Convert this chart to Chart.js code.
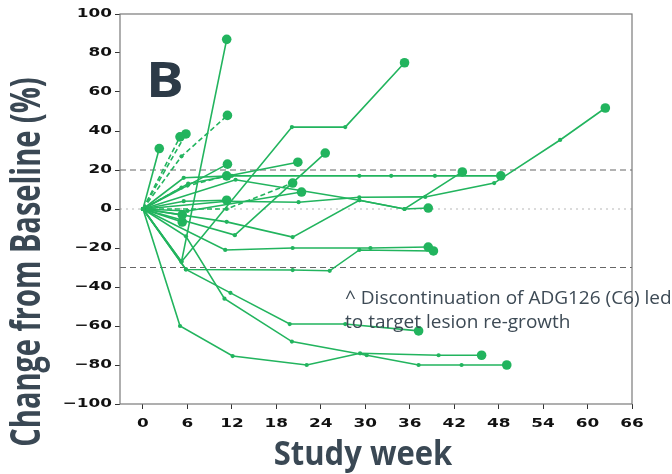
<!DOCTYPE html>
<html>
<head>
<meta charset="utf-8">
<script src="https://cdn.jsdelivr.net/npm/chart.js@4.4.0/dist/chart.umd.min.js"></script>
<style>
  html, body { margin: 0; padding: 0; background: #fff; }
</style>
</head>
<body>
<canvas id="spider" width="672" height="474"></canvas>
<script>
// per-patient study weeks and % change in target lesions
const wk01 = [0, 2.2];                                 const pc01 = [0, 31];
const wk02 = [0, 5];                                   const pc02 = [0, 37];
const wk03 = [0, 5.8];                                 const pc03 = [0, 38.5];
const wk04 = [0, 5.2, 11.4];                           const pc04 = [0, 27, 48];
const wk05 = [0, 5.2, 11.3];                           const pc05 = [0, -27, 87];
const wk06 = [0, 5.8, 11.8, 19.8, 27.3, 37.2];         const pc06 = [0, -31, -43, -59, -59, -62.5];
const wk07 = [0, 5.8, 11, 20.1, 30.2, 37.2, 43, 49.1]; const pc07 = [0, -14, -46, -68, -75, -80, -80, -80];
const wk08 = [0, 5, 12.1, 22.1, 29.3, 39.9, 45.7];     const pc08 = [0, -60, -75.4, -80, -74, -75, -75];
const wk09 = [0, 5.8, 20.2, 25.2, 29.2, 39.2];         const pc09 = [0, -31, -31.3, -31.7, -21, -21.5];
const wk10 = [0, 11.1, 20.2, 30.7, 38.5];              const pc10 = [0, -21, -20, -20, -19.5];
const wk11 = [0, 11.3, 20.2, 29.2, 35.3, 43.1];        const pc11 = [0, -6.6, -14.4, 4.5, 0, 19];
const wk12 = [0, 12.5, 29.2, 35.3, 38.5];              const pc12 = [0, 15, 4.5, 0, 0.5];
const wk13 = [0, 12.4, 24.6];                          const pc13 = [0, -13.4, 28.7];
const wk14 = [0, 6.1, 20.9];                           const pc14 = [0, 13, 24];
const wk15 = [0, 11.3, 20.2];                          const pc15 = [0, 0, 13.3];
const wk16 = [0, 5.5, 12, 29.2, 33.5, 39.4, 48.3];     const pc16 = [0, 16, 17, 17, 17, 17, 17];
const wk17 = [0, 11.3, 21, 29.2, 38.1, 47.4, 56.3, 62.4]; const pc17 = [0, 4, 3.5, 6, 6.2, 13.3, 35.4, 51.8];
const wk18 = [0, 5.2, 20.1, 27.3, 35.3];               const pc18 = [0, -27, 42, 42, 75];
const wk19 = [0, 5.3];                                 const pc19 = [0, -3];
const wk20 = [0, 5.3];                                 const pc20 = [0, -6.7];
const wk21 = [0, 6, 11.4];                             const pc21 = [0, 12, 23];
const wk22 = [0, 5.5, 11.3];                           const pc22 = [0, 4, 4.5];
const wk23 = [0, 5.2, 11.3];                           const pc23 = [0, 11, 17];
const wk24 = [0, 6, 21.4];                             const pc24 = [0, -1, 8.7];

// patients drawn with a dashed line
const dashedIds = [2, 3, 4, 15, 23];

const xTickValues = [0, 6, 12, 18, 24, 30, 36, 42, 48, 54, 60, 66];
const yTickValues = [-100, -80, -60, -40, -20, 0, 20, 40, 60, 80, 100];
const refLines = [20, -30];

const series = [
  [wk01, pc01], [wk02, pc02], [wk03, pc03], [wk04, pc04], [wk05, pc05], [wk06, pc06],
  [wk07, pc07], [wk08, pc08], [wk09, pc09], [wk10, pc10], [wk11, pc11], [wk12, pc12],
  [wk13, pc13], [wk14, pc14], [wk15, pc15], [wk16, pc16], [wk17, pc17], [wk18, pc18],
  [wk19, pc19], [wk20, pc20], [wk21, pc21], [wk22, pc22], [wk23, pc23], [wk24, pc24]
];

const green = '#22b45e';

const datasets = series.map(([wk, pc], i) => ({
  label: 'P' + (i + 1),
  data: wk.map((w, j) => ({ x: w, y: pc[j] })),
  borderColor: green,
  backgroundColor: green,
  borderWidth: 1.6,
  borderDash: dashedIds.includes(i + 1) ? [5, 3] : [],
  pointRadius: c => c.dataIndex === c.dataset.data.length - 1 ? 4.8 : 2.1,
  pointBorderWidth: 0,
  tension: 0
}));

function stretchText(ctx, str, x, y, font, sx, sy, align, baseline, angle) {
  ctx.save();
  ctx.translate(x, y);
  ctx.scale(sx, sy);
  if (angle) ctx.rotate(angle);
  ctx.font = font;
  ctx.textAlign = align;
  ctx.textBaseline = baseline;
  ctx.fillText(str, 0, 0);
  ctx.restore();
}

const decorations = {
  id: 'decorations',
  beforeDatasetsDraw(chart) {
    const { ctx, chartArea: a, scales: { y } } = chart;
    ctx.save();
    // baseline
    ctx.strokeStyle = '#cfcfcf';
    ctx.lineWidth = 1.5;
    ctx.setLineDash([2, 4]);
    ctx.beginPath();
    ctx.moveTo(a.left, y.getPixelForValue(0));
    ctx.lineTo(a.right, y.getPixelForValue(0));
    ctx.stroke();
    // progression / response thresholds
    ctx.strokeStyle = '#666';
    ctx.lineWidth = 1.2;
    ctx.setLineDash([6, 4]);
    refLines.forEach(v => {
      ctx.beginPath();
      ctx.moveTo(a.left, y.getPixelForValue(v));
      ctx.lineTo(a.right, y.getPixelForValue(v));
      ctx.stroke();
    });
    ctx.restore();
  },
  afterDraw(chart) {
    const { ctx, chartArea: a, scales: { x, y } } = chart;
    ctx.save();
    ctx.strokeStyle = '#7a7a7a';
    ctx.lineWidth = 1.2;
    ctx.strokeRect(a.left, a.top, a.right - a.left, a.bottom - a.top);

    ctx.fillStyle = '#111';
    yTickValues.forEach(v => {
      const label = String(v).replace('-', '\u2212');
      stretchText(ctx, label, a.left - 8, y.getPixelForValue(v), 'bold 12.5px "DejaVu Sans"', 1.35, 1, 'right', 'middle');
    });
    xTickValues.forEach(v => {
      stretchText(ctx, String(v), x.getPixelForValue(v), a.bottom + 13, 'bold 12.5px "DejaVu Sans"', 1.35, 1, 'center', 'top');
    });

    ctx.fillStyle = '#3a4854';
    stretchText(ctx, 'Change from Baseline (%)', 28, 262, 'bold 29px "Open Sans"', 1.4, 1, 'center', 'middle', -Math.PI / 2);
    stretchText(ctx, 'Study week', 363, 465, 'bold 31px "Open Sans"', 1, 1.1, 'center', 'alphabetic');

    ctx.fillStyle = '#2c3a47';
    stretchText(ctx, 'B', 146, 97, 'bold 49px "Open Sans"', 1.15, 1, 'left', 'alphabetic');

    ctx.fillStyle = '#3d4a55';
    ctx.font = '19px "Open Sans"';
    ctx.textAlign = 'left';
    ctx.textBaseline = 'alphabetic';
    ctx.fillText('^ Discontinuation of ADG126 (C6) led', 345, 304);
    ctx.fillText('to target lesion re-growth', 345, 328);
    ctx.restore();
  }
};

new Chart(document.getElementById('spider'), {
  type: 'line',
  data: { datasets },
  options: {
    responsive: false,
    devicePixelRatio: 1,
    animation: false,
    layout: { padding: { top: 14, right: 40, left: 0, bottom: 0 } },
    plugins: { legend: { display: false }, tooltip: { enabled: false } },
    scales: {
      x: {
        type: 'linear',
        min: -3.1,
        max: 66,
        afterBuildTicks: s => { s.ticks = xTickValues.map(v => ({ value: v })); },
        afterFit: s => { s.height = 70; },
        ticks: { display: false },
        grid: { drawOnChartArea: false, drawTicks: true, tickLength: 5, color: '#333' },
        border: { display: false }
      },
      y: {
        type: 'linear',
        min: -100,
        max: 100,
        afterBuildTicks: s => { s.ticks = yTickValues.map(v => ({ value: v })); },
        afterFit: s => { s.width = 120; },
        ticks: { display: false },
        grid: { drawOnChartArea: false, drawTicks: true, tickLength: 5, color: '#333' },
        border: { display: false }
      }
    }
  },
  plugins: [decorations]
});
</script>
</body>
</html>
